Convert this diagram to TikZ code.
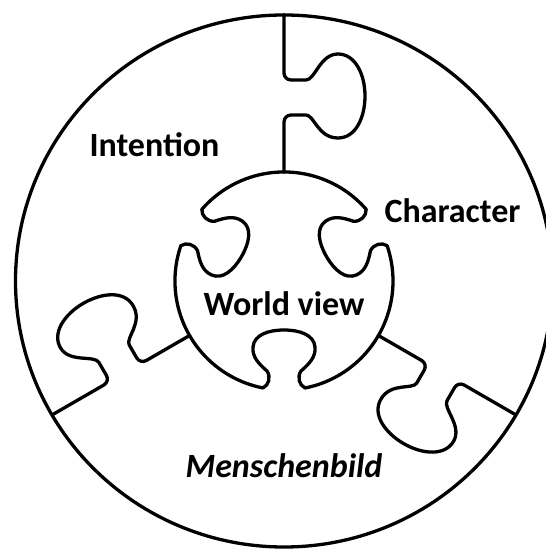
\documentclass[tikz,border=0pt]{standalone}
\usepackage{fontspec}
\setmainfont{Carlito}

\begin{document}
\begin{tikzpicture}[
  x=1pt,y=1pt,
  piece/.style={line width=3.3pt,line join=round,line cap=round},
  piecename/.style={anchor=base,inner sep=0pt,
              font=\fontsize{34}{40}\selectfont\bfseries},
]
\useasboundingbox (-284,-268) rectangle (262,281);

% rim
\draw[piece] (0,0) ellipse[x radius=268.5,y radius=266];

% three seams with a tab each, three notches in the hub
\foreach \r in {0,120,240}{
  \begin{scope}[rotate=\r]
    \draw[piece] (0,108.8) -- (0,159) to[out=90,in=180] (7,166) -- (22,166)
      .. controls (30,166) and (34,143) .. (54,143)
      .. controls (72,143) and (81,164) .. (81,185)
      .. controls (81,207) and (71,227) .. (54,227)
      .. controls (36,227) and (31,201) .. (22,201)
      -- (7,201) to[out=180,in=-90] (0,208) -- (0,266.5);
    \draw[piece] (-21,-107)
      .. controls (-15,-104) and (-13,-96) .. (-17,-90)
      .. controls (-25,-83) and (-32,-76) .. (-31,-66)
      .. controls (-30,-54) and (-16,-49) .. (0,-49)
      .. controls (16,-49) and (30,-54) .. (31,-66)
      .. controls (32,-76) and (25,-83) .. (17,-90)
      .. controls (13,-96) and (15,-104) .. (21,-107)
      arc[start angle=281.1,end angle=378.9,radius=109];
  \end{scope}
}

\node[piecename] (intention)    at (-129.5,124) {Intention};
\node[piecename] (character)    at (168.5,58)   {Character};
\node[piecename] (worldview)    at (0,-34)      {World view};
\node[piecename] (menschenbild) at (0,-196)     {\itshape Menschenbild};
\end{tikzpicture}
\end{document}
